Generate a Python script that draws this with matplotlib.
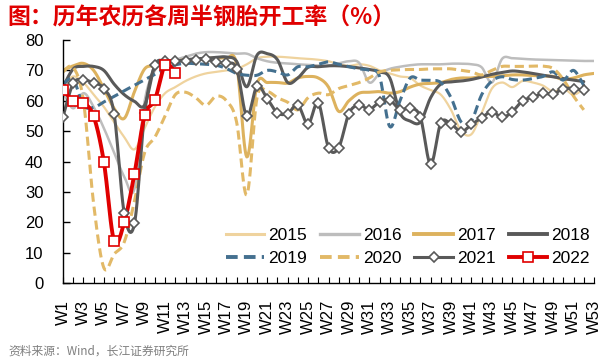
import numpy as np
import matplotlib
matplotlib.use("Agg")
import matplotlib.pyplot as plt
from matplotlib.lines import Line2D

plt.rcParams['font.family'] = ['Liberation Sans', 'Noto Sans CJK SC', 'DejaVu Sans']

weeks_labels = [f"W{i}" for i in range(1, 54)]

y2015 = [65, 68, 66, 62, 58, 53, 48, 44, 51, 58, 62.5, 64.5, 66.5, 68, 69, 69.5, 70, 70.5, 72, 74,
         74.5, 74.5, 74.3, 74, 73.8, 73.5, 73, 72, 71.5, 72, 71.5, 70, 69, 68, 67.5, 65, 63.5, 62, 57, 50,
         49, 56, 64, 66, 64.5, 66.5, 66, 65, 63, 64, 62, 64]
y2016 = [63, 57.5, 62.5, 58, 51, 43, 35, 31, 60, 70, 72.5, 73.5, 74.5, 75.5, 76, 76, 75.8, 75.5, 75.5, 74,
         73, 72.5, 72.3, 72, 71.8, 71.6, 71.5, 72.3, 73, 72.5, 66, 69, 70.5, 71.2, 71.7, 72, 72, 72, 72.2, 72.2,
         72, 71, 66, 73.8, 74, 73.8, 73.6, 73.5, 73.4, 73.3, 73.2, 73.1, 73.1]
y2017 = [70, 71.5, 72.3, 70, 64, 57.5, 54.2, 63, 70.5, 71.5, 72.5, 73, 73.5, 73.5, 74, 74, 74, 72, 41.5, 65.5,
         66, 66, 65.8, 67.5, 68, 67.5, 64.5, 56.5, 60, 62.5, 62.8, 63, 62.5, 63, 64.5, 65.5, 65.7, 66, 67, 67.5,
         67.5, 68, 68, 68.2, 68.5, 68.5, 68.3, 68.2, 68, 67, 67.5, 68.5, 69]
y2018 = [64.5, 70.5, 71.3, 71.3, 70, 65.5, 62, 59.8, 58.6, 71.5, 72.5, 73, 73.5, 73.8, 74, 74.3, 74.4, 73, 64.6, 75,
         75.5, 73.5, 66, 67.5, 71, 71.2, 71.5, 71.5, 71.2, 70.8, 70.3, 69.5, 67.5, 56, 53.3, 53, 61, 65.5, 66.2, 66.5,
         67, 67.8, 68.7, 69.3, 69.8, 69.5, 69, 68.4, 67.9, 67.3, 66.8, 66.3]
y2019 = [65.5, 67, 58.5, 57.8, 59.6, 61.4, 63.3, 65.1, 66.9, 68.7, 70.5, 71.8, 72.3, 72.2, 72, 71.7, 70.6, 69, 68.4, 68.4,
         70, 69.5, 68.5, 71.2, 71.2, 72, 72.8, 72, 71.2, 70.5, 70, 68, 51.5, 60, 67.5, 66.8, 66.7, 66, 61, 53,
         53.5, 62, 66.5, 67.9, 67, 66.8, 67.3, 68, 69.5, 66.8, 70, 65]
y2020 = [69.5, 71, 60, 26, 5, 9.5, 13.5, 27, 43, 48, 55, 62, 62.8, 61, 58.5, 61.5, 60, 53, 29, 61,
         63, 61, 59.5, 57, 61, 62.5, 62, 64, 65, 66, 67.5, 69.5, 70, 70.2, 70.3, 70.3, 70.5, 70.5, 70.5, 70,
         69.5, 68.5, 70, 71.3, 71.3, 71.3, 71.4, 71.4, 70.6, 67, 61.5, 57]
y2021 = [54.7, 65.7, 66.8, 65.9, 64.0, 55.8, 22.9, 19.6, 56, 71.7, 73.0, 73.0, 73.2, 73.5, 73.8, 72.6, 72.3, 70.6, 54.9, 64.8,
         60.7, 56.0, 55.8, 58.6, 52.3, 59.3, 44.6, 44.6, 55.8, 58.6, 57.1, 59.6, 60.2, 57.1, 57.6, 54.6, 39.1, 52.7, 52.3, 49.8,
         52.2, 54.4, 56.4, 54.5, 56.4, 60.0, 61.1, 62.4, 62.2, 64.0, 64.0, 63.5]
y2022 = [63.7, 60.0, 59.3, 54.9, 39.9, 13.9, 20.0, 36.0, 55.2, 60.3, 71.8, 69.2]

years = ["2015", "2016", "2017", "2018", "2019", "2020", "2021", "2022"]
series = [y2015, y2016, y2017, y2018, y2019, y2020, y2021, y2022]

styles = {
    "2015": dict(color="#EFD39E", lw=1.6, ls="-"),
    "2016": dict(color="#BDBDBD", lw=1.8, ls="-"),
    "2017": dict(color="#DDB25E", lw=2.2, ls="-"),
    "2018": dict(color="#595959", lw=2.2, ls="-"),
    "2019": dict(color="#44708F", lw=2.2, ls=(0, (3, 1.6))),
    "2020": dict(color="#E2B967", lw=2.2, ls=(0, (3, 1.6))),
    "2021": dict(color="#595959", lw=2.2, ls="-", marker="D", ms=4.6, mfc="white", mec="#595959", mew=1.2),
    "2022": dict(color="#E00000", lw=2.8, ls="-", marker="s", ms=7, mfc="white", mec="#E00000", mew=1.2),
}


def smooth(x, y, n=12):
    x = np.asarray(x, float)
    y = np.asarray(y, float)
    P = np.column_stack([x, y])
    out = []
    m = len(P)
    for i in range(m - 1):
        p0 = P[i - 1] if i > 0 else P[i]
        p1 = P[i]
        p2 = P[i + 1]
        p3 = P[i + 2] if i + 2 < m else P[i + 1]
        m1 = (p2 - p0) / 2.0
        m2 = (p3 - p1) / 2.0
        t = np.linspace(0, 1, n, endpoint=False)[:, None]
        h00 = 2 * t**3 - 3 * t**2 + 1
        h10 = t**3 - 2 * t**2 + t
        h01 = -2 * t**3 + 3 * t**2
        h11 = t**3 - t**2
        out.append(h00 * p1 + h10 * m1 + h01 * p2 + h11 * m2)
    out.append(P[-1:])
    S = np.vstack(out)
    return S[:, 0], S[:, 1]


fig = plt.figure(figsize=(6.08, 3.63), dpi=100)
ax = fig.add_axes([63 / 608, 1 - 283 / 363, (594 - 63) / 608, (283 - 40) / 363])

handles = {}
for yr, vals in zip(years, series):
    st = styles[yr]
    xs = np.arange(1, len(vals) + 1)
    sx, sy = smooth(xs, vals)
    ax.plot(sx, sy, color=st["color"], lw=st["lw"], ls=st["ls"], solid_capstyle="round",
            dash_capstyle="butt", zorder=2)
    if "marker" in st:
        ax.plot(xs, vals, ls="none", marker=st["marker"], ms=st["ms"], mfc=st["mfc"],
                mec=st["mec"], mew=st["mew"], zorder=3)
        h = Line2D([], [], color=st["color"], lw=st["lw"], ls=st["ls"], marker=st["marker"],
                   ms=st["ms"], mfc=st["mfc"], mec=st["mec"], mew=st["mew"])
    else:
        h = Line2D([], [], color=st["color"], lw=st["lw"] + 0.6, ls=st["ls"])
    handles[yr] = h

ax.set_xlim(1, 53)
ax.set_ylim(0, 80)
ax.set_yticks(np.arange(0, 81, 10))
ax.set_xticks(np.arange(1, 54))
ax.set_xticklabels([lab if i % 2 == 0 else "" for i, lab in enumerate(weeks_labels)], rotation=90,
                   va="top", ha="center")
for s in ["top", "right"]:
    ax.spines[s].set_visible(False)
for s in ["left", "bottom"]:
    ax.spines[s].set_color("black")
    ax.spines[s].set_linewidth(1.0)
ax.tick_params(axis="y", direction="in", length=5, width=1, labelsize=12, pad=14, colors="black")
ax.tick_params(axis="x", direction="in", length=4, width=0.8, labelsize=12, pad=12, colors="black")

# legend is filled column-wise: reorder so rows read 2015-2018 / 2019-2022
leg_order = ["2015", "2019", "2016", "2020", "2017", "2021", "2018", "2022"]
leg = fig.legend([handles[k] for k in leg_order], leg_order, ncol=4, loc="upper left",
                 bbox_to_anchor=(226 / 608, 1 - 228 / 363),
                 frameon=False, fontsize=12.5, handlelength=2.2, handletextpad=0.25,
                 columnspacing=0.75, labelspacing=0.45, borderpad=0, borderaxespad=0)

fig.text(7 / 608, 1 - 18.5 / 363, "图：历年农历各周半钢胎开工率（%）", fontsize=16.5, fontweight="bold",
         color="#E00000", va="center", ha="left", family=["Noto Sans CJK SC", "DejaVu Sans"])
fig.text(8 / 608, 1 - 351 / 363, "资料来源：Wind，长江证券研究所", fontsize=8.5, color="#7F7F7F",
         va="center", ha="left", family=["Noto Sans CJK SC", "DejaVu Sans"])

fig.savefig("out.png", dpi=100)
